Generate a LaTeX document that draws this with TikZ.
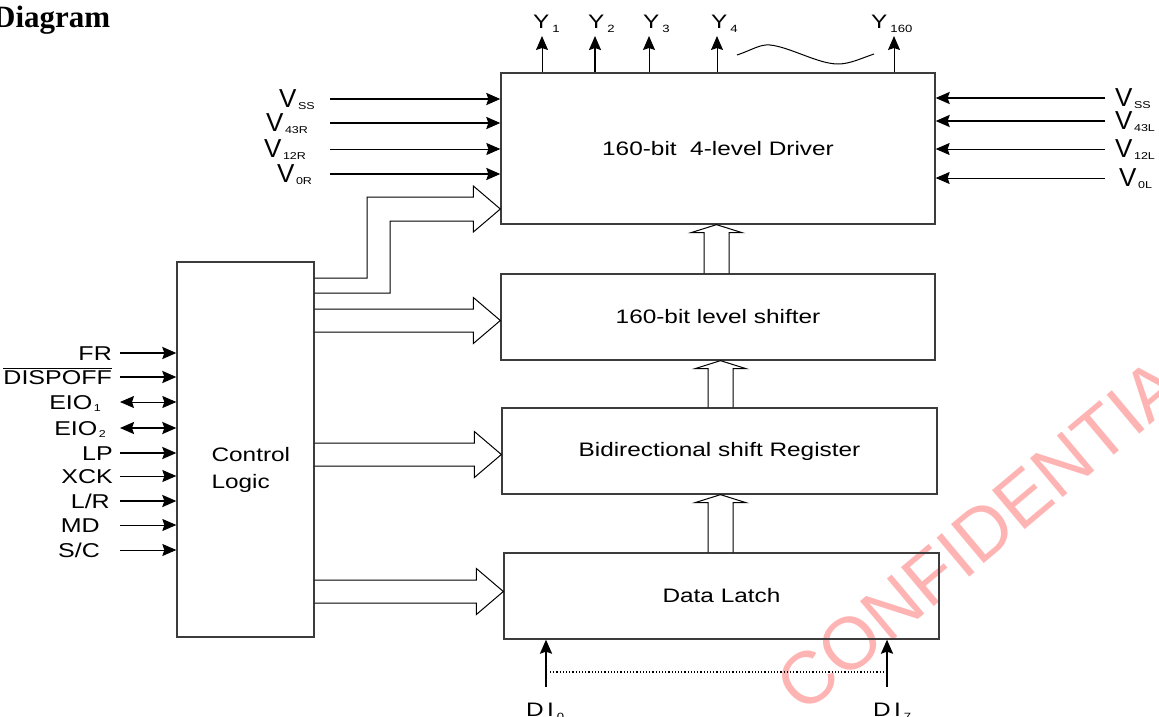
\documentclass[tikz,border=0pt]{standalone}
\usepackage{fontspec}
\setmainfont{Liberation Sans}[FakeStretch=1.25]
\newfontfamily\vfont{Liberation Sans}
\newfontfamily\headfont{Liberation Serif}
\usetikzlibrary{arrows.meta,positioning,calc}
\definecolor{boxgray}{RGB}{60,60,60}
\definecolor{wmpink}{RGB}{255,180,180}
\newcommand{\lowidx}[1]{\kern1.5pt\raisebox{-2pt}{\fontsize{10}{10}\selectfont #1}}
\newcommand{\yidx}[1]{\kern3pt\raisebox{-4pt}{\fontsize{10.5}{10}\selectfont #1}}
\newcommand{\vpin}[1]{{\vfont\fontsize{26}{26}\selectfont V}\lowidx{#1}}
% wide arrow from the control block into a box
\newcommand{\rblk}[2]{%
  \coordinate (hb) at (0,#1);
  \draw[blk] ($(ctl.east |- hb)+(0,-11.5)$) -- ($(#2.west |- hb)+(-27,-11.5)$)
    -- ++(0,-11.5) -- (#2.west |- hb) -- ++(-27,23) -- ++(0,-11.5)
    -- ($(ctl.east |- hb)+(0,11.5)$);}
% wide arrow up from one box into the next
\newcommand{\ublk}[3]{%
  \coordinate (vb) at (#1,0);
  \draw[blk] ($(vb |- #2.north)+(-12.5,0)$) -- ($(vb |- #3.south)+(-12.5,8)$)
    -- ++(-13,0) -- (vb |- #3.south) -- ++(25.5,8) -- ++(-13,0)
    -- ($(vb |- #2.north)+(12.5,0)$);}

\begin{document}
\begin{tikzpicture}[
  x=1pt, y=-1pt,
  >={Stealth[length=14pt,width=12pt,inset=2pt]},
  every node/.style={font=\fontsize{19.5}{27}\selectfont, inner sep=0pt},
  blockbox/.style={draw=boxgray, line width=1.3pt, minimum width=434pt, minimum height=86pt},
  blk/.style={draw=black, line width=1pt, line join=miter},
  sigthick/.style={->, line width=2pt},
  sigthin/.style={->, line width=1pt},
  bithin/.style={<->, line width=1pt},
  bithick/.style={<->, line width=2pt}
]
  \useasboundingbox (0,0) rectangle (1159,717);

  % Watermark and heading
  \node (wm) [rotate=40, text=wmpink, font=\vfont\fontsize{74}{74}\selectfont] at (995,522) {CONFIDENTIAL};
  \node (head) [anchor=base west, font=\headfont\bfseries\fontsize{31}{32}\selectfont] at (-7,28) {Diagram};

  % Blocks
  \node (drv) [blockbox, minimum height=151pt] at (718,148.5) {160-bit\ \ 4-level Driver};
  \node (lvl) [blockbox] at (718,317) {160-bit level shifter};
  \node (shf) [blockbox, minimum width=435pt] at (719.5,451) {Bidirectional shift Register};
  \node (lat) [blockbox, minimum width=435pt] at (721.5,596) {Data Latch};
  \node (ctl) [blockbox, minimum width=137pt, minimum height=375pt] at (245.5,449.5) {};
  \node (ctltxt) [right=35pt of ctl.west, yshift=-20pt, align=left] {Control\\Logic};

  % Outputs Y
  \foreach \x/\i/\w/\lx in {542/1/1pt/533, 595/2/2pt/588, 649/3/1pt/643, 717/4/1pt/711, 894/160/1pt/871} {
    \coordinate (ytop\i) at (\x,36);
    \draw[->, line width=\w] (ytop\i |- drv.north) -- (ytop\i);
    \node (ylab\i) [anchor=base west] at (\lx,29) {Y\yidx{\i}};
  }
  \draw[line width=1pt] (737,55) .. controls (752,50) and (760,44) .. (770,45)
    .. controls (790,47) and (818,64) .. (838,64) .. controls (850,64) and (862,58) .. (874,54);

  % Supply pins, left and right
  \foreach \y/\s/\w/\lx in {99/SS/2pt/279, 123/43R/2pt/266, 149/12R/1pt/264, 174/0R/2pt/277} {
    \coordinate (vl\s) at (330,\y);
    \draw[->, line width=\w] (vl\s) -- (vl\s -| drv.west);
    \node (vlab\s) [anchor=base west] at (\lx,\y+8) {\vpin{\s}};
  }
  \foreach \y/\s/\w/\lx in {98/SS/2pt/1115, 121/43L/2pt/1115, 149/12L/1pt/1115, 178/0L/1pt/1119} {
    \coordinate (vr\s) at (1105,\y);
    \draw[->, line width=\w] (vr\s) -- (vr\s -| drv.east);
    \node (vrlab\s) [anchor=base west] at (\lx,\y+8) {\vpin{\s}};
  }

  % Control inputs
  \foreach \y/\t/\r/\st in {353/FR/112/sigthick, 377/{$\overline{\mbox{DISPOFF}}$}/112/sigthick,
      402/{EIO\lowidx{1}}/101/bithin, 428/{EIO\lowidx{2}}/106/bithick, 453/LP/113/sigthick,
      476/XCK/113/sigthin, 501/{L/R}/110/sigthick, 525/MD/100/sigthin, 550/{S/C}/100/sigthin} {
    \coordinate (cin\y) at (120,\y);
    \draw[\st] (cin\y) -- (cin\y -| ctl.west);
    \node (clab\y) [anchor=base east, font=\fontsize{20}{20}\selectfont] at (\r,\y+7) {\t};
  }

  % Wide arrows
  \coordinate (r1) at (0,278);
  \coordinate (r2) at (0,293);
  \coordinate (d1) at (367,197);
  \coordinate (d2) at (390,221);
  \coordinate (dtip) at (0,209);
  \draw[blk] (ctl.east |- r1) -| (d1) -- ($(drv.west |- dtip)+(-27,-12)$) -- ++(0,-11)
    -- (drv.west |- dtip) -- ++(-27,23) -- ++(0,-11) -- (d2) |- (ctl.east |- r2);
  \rblk{320.5}{lvl}
  \rblk{454.5}{shf}
  \rblk{591.5}{lat}
  \ublk{716.5}{lvl}{drv}
  \ublk{720.5}{shf}{lvl}
  \ublk{720.5}{lat}{shf}

  % Data inputs
  \coordinate (di0) at (546,687);
  \coordinate (di7) at (887,687);
  \coordinate (dd0) at (550,672);
  \coordinate (dd7) at (885,672);
  \draw[->, line width=2pt] (di0) -- (di0 |- lat.south);
  \draw[->, line width=2pt] (di7) -- (di7 |- lat.south);
  \draw[dotted, line width=1.2pt] (dd0) -- (dd7);
  \node (dilab0) [anchor=base west] at (526,716) {D\,I\yidx{0}};
  \node (dilab7) [anchor=base west] at (873,716) {D\,I\yidx{7}};
\end{tikzpicture}
\end{document}
